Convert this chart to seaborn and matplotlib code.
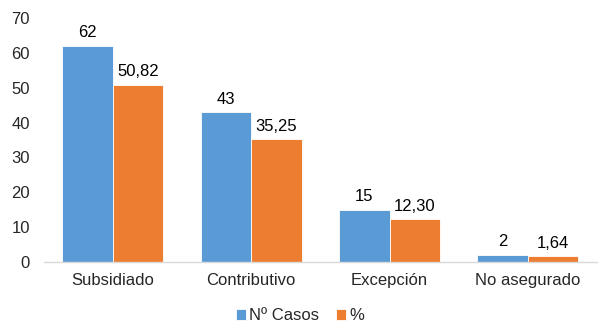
import matplotlib
matplotlib.use("Agg")
import matplotlib.pyplot as plt
import seaborn as sb
import pandas as pd

categorias = ['Subsidiado', 'Contributivo', 'Excepción', 'No asegurado']
casos = [62, 43, 15, 2]
porcentaje = [50.82, 35.25, 12.30, 1.64]
series = ['Nº Casos', '%']

df = pd.DataFrame({
    'categoria': categorias * 2,
    'valor': casos + porcentaje,
    'serie': [series[0]] * len(categorias) + [series[1]] * len(categorias),
})

sb.set_style('white')
plt.rcParams['font.family'] = ['Liberation Sans', 'DejaVu Sans']
fs = 12

fig = plt.figure(figsize=(6, 3.27), dpi=100)
ax = fig.add_axes([0.073, 0.199, 0.922, 0.746])

sb.barplot(data=df, x='categoria', y='valor', hue='serie',
           palette=['#5B9BD5', '#ED7D31'], saturation=1, width=0.73, gap=0,
           edgecolor='white', linewidth=0.6, ax=ax)

# etiquetas de datos
ax.bar_label(ax.containers[0], labels=[str(v) for v in casos],
             padding=4, fontsize=fs, color='#000000')
ax.bar_label(ax.containers[1],
             labels=[f'{v:.2f}'.replace('.', ',') for v in porcentaje],
             padding=4, fontsize=fs, color='#000000')

ax.set_ylim(0, 70)
ax.set_xlim(-0.5, 3.5)
ax.set_yticks(range(0, 71, 10))
ax.set_xlabel('')
ax.set_ylabel('')
ax.tick_params(axis='y', length=0, pad=10, labelsize=fs)
ax.tick_params(axis='x', length=0, pad=8, labelsize=fs)
for s in ['top', 'right', 'left']:
    ax.spines[s].set_visible(False)
ax.spines['bottom'].set_color('#D9D9D9')
ax.spines['bottom'].set_linewidth(1)

ax.get_legend().remove()
handles, labels = ax.get_legend_handles_labels()
fig.legend(handles, labels, loc='lower center', bbox_to_anchor=(0.5, -0.035),
           ncol=2, frameon=False, fontsize=fs, handlelength=0.6,
           handleheight=0.6, handletextpad=0.2, columnspacing=1.0)

plt.savefig('out.png', dpi=100)
